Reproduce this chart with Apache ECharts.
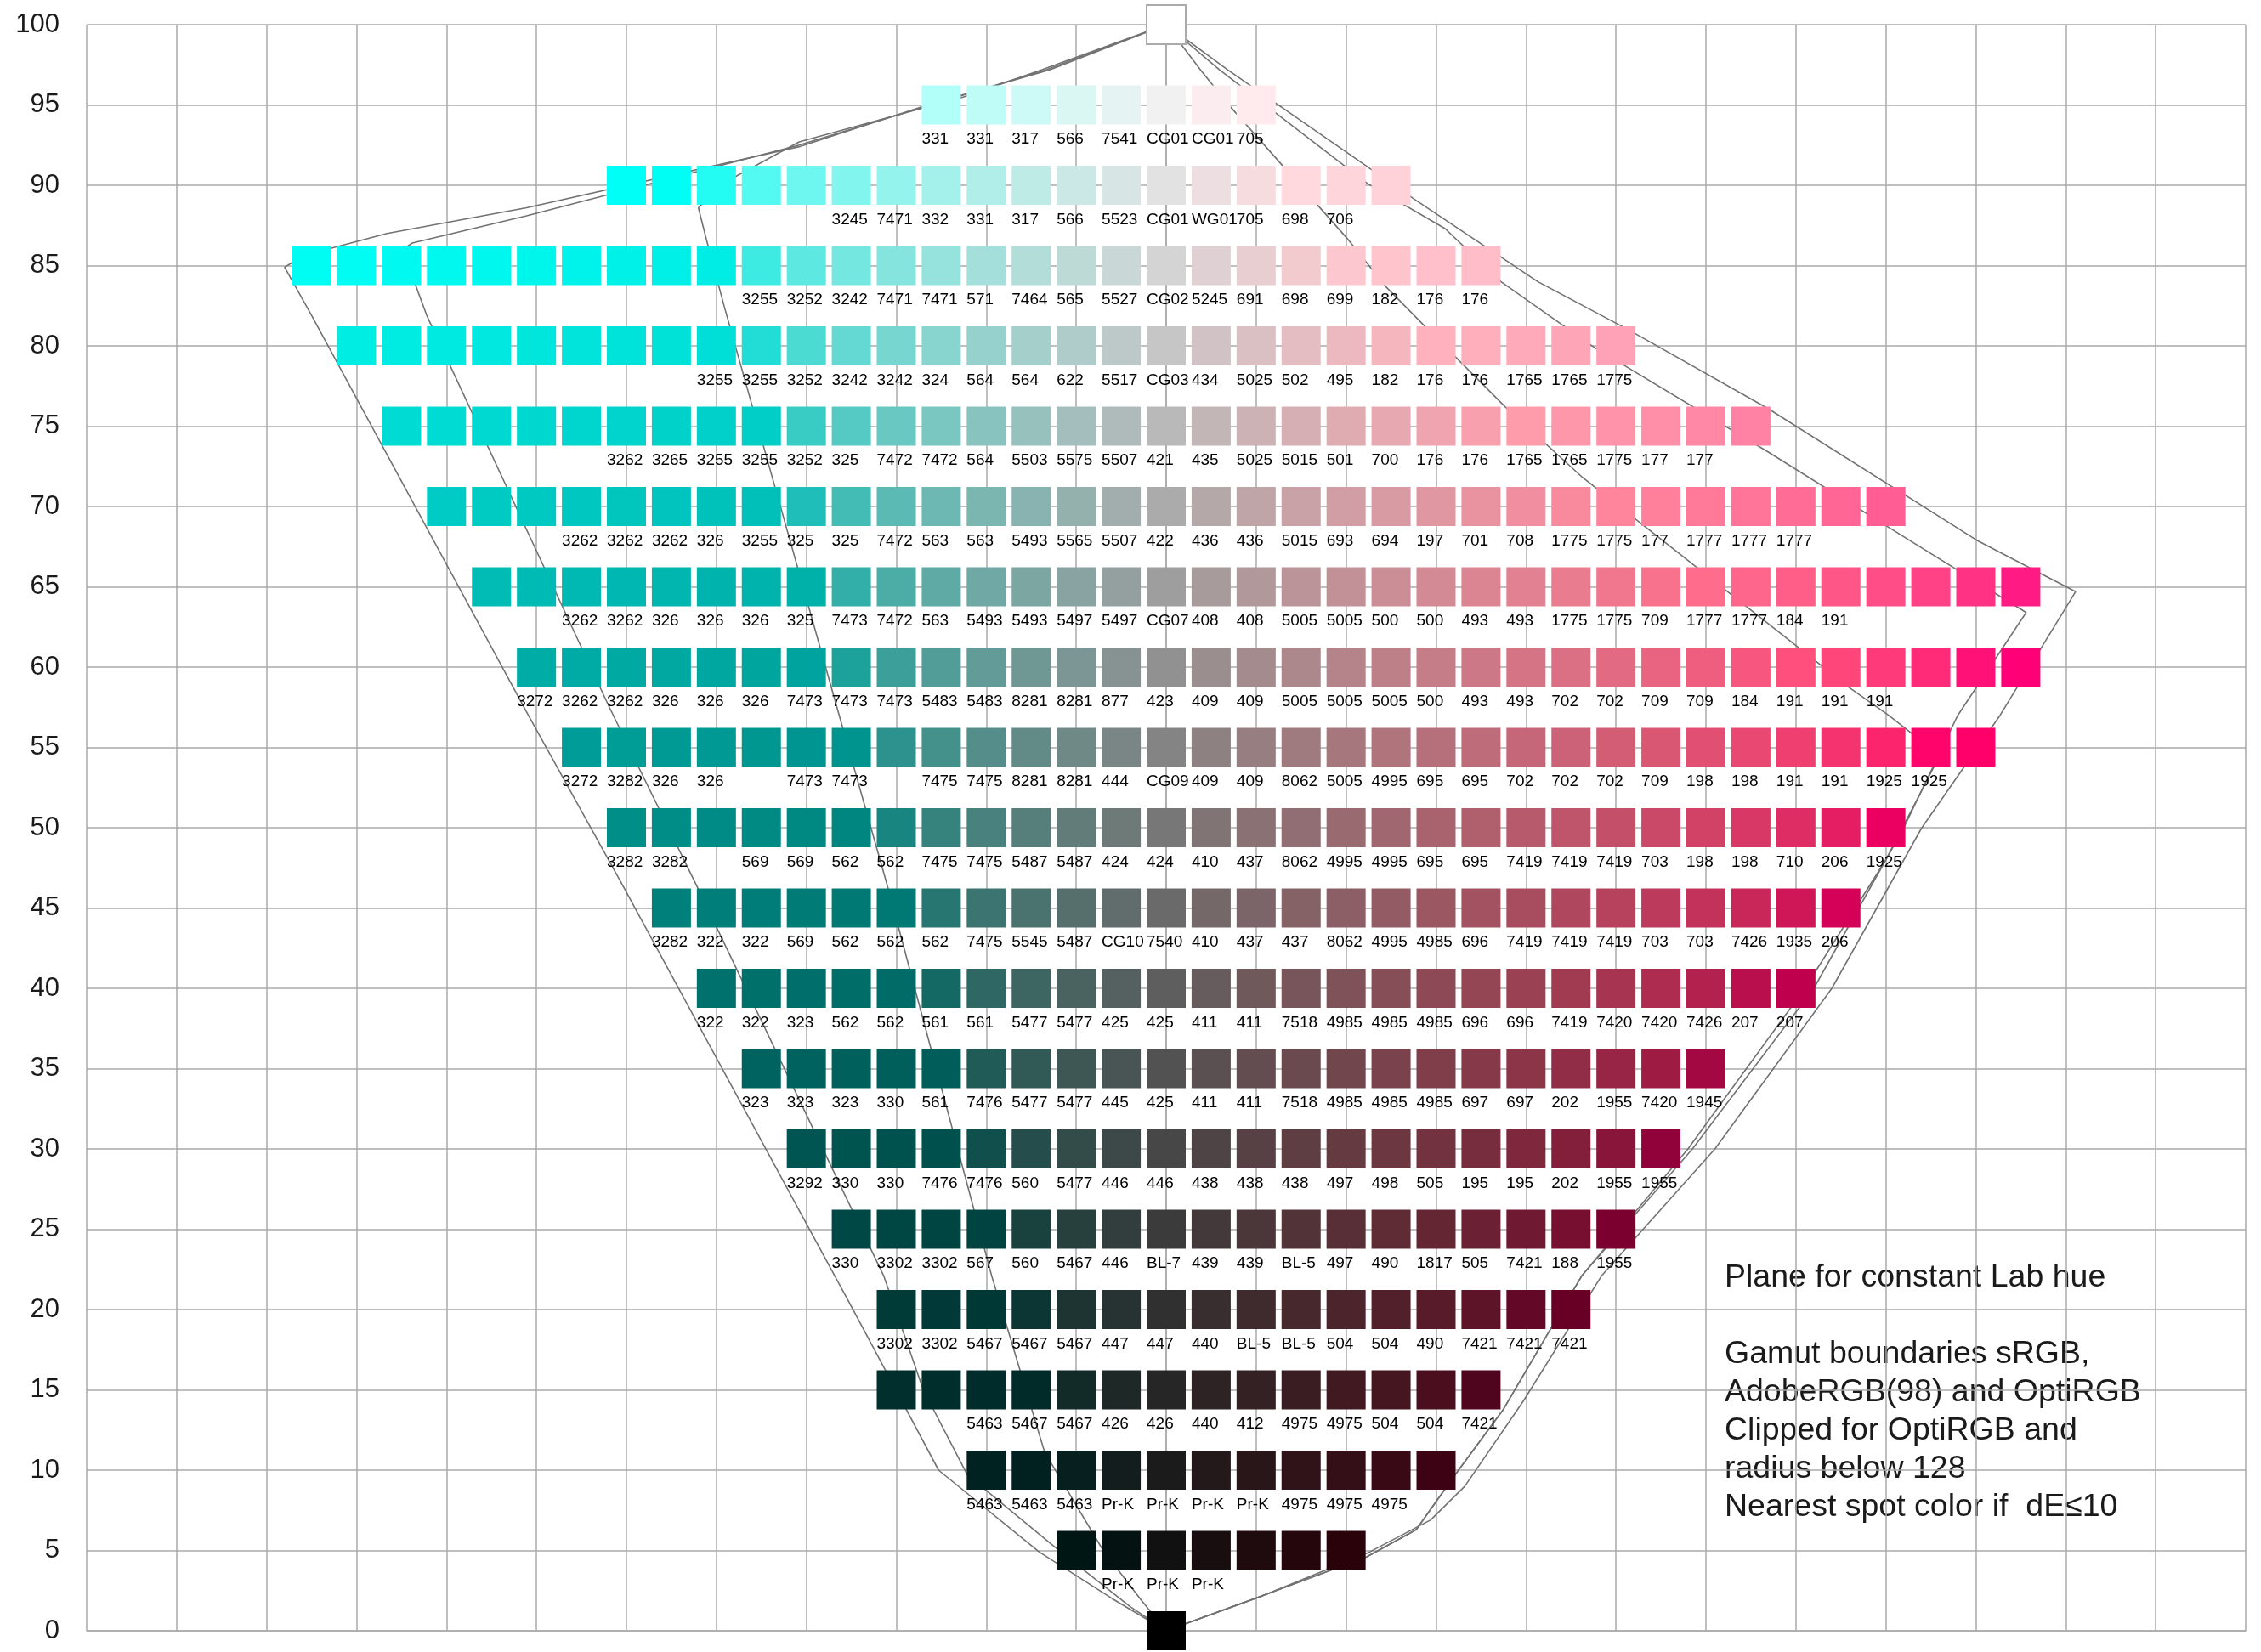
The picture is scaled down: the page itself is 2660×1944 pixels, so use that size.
<!DOCTYPE html>
<html><head><meta charset="utf-8">
<script src="https://cdn.jsdelivr.net/npm/echarts@6/dist/echarts.min.js"></script>
<style>html,body{margin:0;padding:0;background:#fff}#c{width:2660px;height:1944px}</style>
</head><body><div id="c"></div>
<script>
// Lightness levels (y) and chroma of the first patch in each row (x, signed chroma, step 5)
const rowL      = [100, 95, 90, 85, 80, 75, 70, 65, 60, 55, 50, 45, 40, 35, 30, 25, 20, 15, 10, 5, 0];
const rowStartC = [0, -25, -60, -95, -90, -85, -80, -75, -70, -65, -60, -55, -50, -45, -40, -35, -30, -30, -20, -10, 0];
const chromaStep = 5;

// Nearest spot colour names for each patch of a row ('' = none)
const lab100 = [''];
const lab95 = ['331','331','317','566','7541','CG01','CG01','705'];
const lab90 = ['','','','','','3245','7471','332','331','317','566','5523','CG01','WG01','705','698','706',''];
const lab85 = ['','','','','','','','','','','3255','3252','3242','7471','7471','571','7464','565','5527','CG02','5245','691','698','699','182','176','176'];
const lab80 = ['','','','','','','','','3255','3255','3252','3242','3242','324','564','564','622','5517','CG03','434','5025','502','495','182','176','176','1765','1765','1775'];
const lab75 = ['','','','','','3262','3265','3255','3255','3252','325','7472','7472','564','5503','5575','5507','421','435','5025','5015','501','700','176','176','1765','1765','1775','177','177',''];
const lab70 = ['','','','3262','3262','3262','326','3255','325','325','7472','563','563','5493','5565','5507','422','436','436','5015','693','694','197','701','708','1775','1775','177','1777','1777','1777','',''];
const lab65 = ['','','3262','3262','326','326','326','325','7473','7472','563','5493','5493','5497','5497','CG07','408','408','5005','5005','500','500','493','493','1775','1775','709','1777','1777','184','191','','','',''];
const lab60 = ['3272','3262','3262','326','326','326','7473','7473','7473','5483','5483','8281','8281','877','423','409','409','5005','5005','5005','500','493','493','702','702','709','709','184','191','191','191','','',''];
const lab55 = ['3272','3282','326','326','','7473','7473','','7475','7475','8281','8281','444','CG09','409','409','8062','5005','4995','695','695','702','702','702','709','198','198','191','191','1925','1925',''];
const lab50 = ['3282','3282','','569','569','562','562','7475','7475','5487','5487','424','424','410','437','8062','4995','4995','695','695','7419','7419','7419','703','198','198','710','206','1925'];
const lab45 = ['3282','322','322','569','562','562','562','7475','5545','5487','CG10','7540','410','437','437','8062','4995','4985','696','7419','7419','7419','703','703','7426','1935','206'];
const lab40 = ['322','322','323','562','562','561','561','5477','5477','425','425','411','411','7518','4985','4985','4985','696','696','7419','7420','7420','7426','207','207'];
const lab35 = ['323','323','323','330','561','7476','5477','5477','445','425','411','411','7518','4985','4985','4985','697','697','202','1955','7420','1945'];
const lab30 = ['3292','330','330','7476','7476','560','5477','446','446','438','438','438','497','498','505','195','195','202','1955','1955'];
const lab25 = ['330','3302','3302','567','560','5467','446','BL-7','439','439','BL-5','497','490','1817','505','7421','188','1955'];
const lab20 = ['3302','3302','5467','5467','5467','447','447','440','BL-5','BL-5','504','504','490','7421','7421','7421'];
const lab15 = ['','','5463','5467','5467','426','426','440','412','4975','4975','504','504','7421'];
const lab10 = ['5463','5463','5463','Pr-K','Pr-K','Pr-K','Pr-K','4975','4975','4975',''];
const lab5  = ['','Pr-K','Pr-K','Pr-K','','',''];
const lab0  = [''];
const rowLabels = [lab100, lab95, lab90, lab85, lab80, lab75, lab70, lab65, lab60, lab55, lab50, lab45, lab40, lab35, lab30, lab25, lab20, lab15, lab10, lab5, lab0];

// Gamut boundaries in the hue plane: [signed chroma, L]
const gamutSRGB = [[0,100],[-13.8,97.2],[-22.5,95.5],[-40.8,92.7],[-49,90.2],[-52,88.6],[-51.1,86.6],[-49.1,82.4],[-36.6,57.5],[-31,46.4],[-19.4,22.1],[-13.5,11.1],[-7,5],[-2.9,2],[0,0],
  [9.8,2],[22.3,4.6],[27.8,6.3],[32.1,9.7],[37.5,13.8],[46.2,22.1],[58,30],[71,40],[80,48],[86,54.5],[80.3,57],[76,58.7],[46.3,71.8],[37.7,76.2],[28.8,81.2],[24.4,83.7],[20.1,86.7],[6.8,95.1],[3.8,97.2],[0,100]];
const gamutAdobe = [[0,100],[-13.3,97.2],[-25,95.2],[-40.8,92.5],[-71.1,88.1],[-83.8,86.4],[-84.9,86.0],[-82.2,81.9],[-61.9,57.5],[-52.2,46.4],[-31.4,22.1],[-27,15],[-22.1,9.7],[-11.7,4.9],[-4,1.5],[0,0],
  [9.8,2],[22.3,4.6],[27.8,6.3],[32.1,9.7],[37.5,13.8],[46.2,22.1],[58.5,30],[72,40],[82,50],[88,57],[95.6,63.4],[82.6,67.9],[66.9,73.4],[47.6,79.9],[37.2,84],[31,87.3],[22.4,90.1],[5.9,97.2],[0,100]];
const gamutOpti = [[0,100],[-12.9,97.2],[-27.1,94.9],[-40.8,92.4],[-71.1,88.6],[-86.6,87.0],[-92.7,86.1],[-97.1,85.2],[-98,84.9],[-95,81.9],[-71.1,57.2],[-60.4,46.4],[-35.2,20.4],[-31.1,16.1],[-25.3,10],[-14.1,4.9],[-6,2],[0,0],
  [10.4,2.1],[22.6,4.9],[29.4,6.9],[33.2,9.0],[39.7,14.3],[48.4,22.1],[61,30],[74,40],[84,50],[92.7,57],[101.1,64.7],[90.1,67.9],[66.9,76.1],[51.4,81],[41.3,84],[27.4,89.2],[6.8,97.2],[0,100]];

const HUE_DEG = 11;
function labToHex(L, C) {
  const h = HUE_DEG * Math.PI / 180;
  const a = C * Math.cos(h), b = C * Math.sin(h);
  const fy = (L + 16) / 116, fx = fy + a / 500, fz = fy - b / 200;
  const inv = t => t > 6/29 ? t*t*t : 3*(6/29)*(6/29)*(t - 4/29);
  const X = 0.95047*inv(fx), Y = inv(fy), Z = 1.08883*inv(fz);
  const lin = [3.2406*X - 1.5372*Y - 0.4986*Z, -0.9689*X + 1.8758*Y + 0.0415*Z, 0.0557*X - 0.2040*Y + 1.0570*Z];
  return '#' + lin.map(v => {
    v = Math.min(1, Math.max(0, v));
    v = v <= 0.0031308 ? 12.92*v : 1.055*Math.pow(v, 1/2.4) - 0.055;
    return Math.round(v*255).toString(16).padStart(2, '0');
  }).join('');
}

const patches = [];
rowL.forEach((L, r) => {
  rowLabels[r].forEach((name, i) => {
    const C = rowStartC[r] + i * chromaStep;
    const item = { name: name, value: [C, L], itemStyle: { color: labToHex(L, C), opacity: 1 } };
    if (L === 100) { item.itemStyle.borderColor = '#aaaaaa'; item.itemStyle.borderWidth = 2; }
    patches.push(item);
  });
});

const lineStyle = { color: '#727272', width: 1.6 };
const chart = echarts.init(document.getElementById('c'), null, { renderer: 'canvas' });
chart.setOption({
  animation: false,
  backgroundColor: '#ffffff',
  grid: { left: 102, right: 18, top: 29, bottom: 25 },
  xAxis: { type: 'value', min: -120, max: 120, interval: 10,
    axisLine: { show: true, lineStyle: { color: '#aaaaaa', width: 1.5 } },
    axisTick: { show: false }, axisLabel: { show: false },
    splitLine: { show: true, lineStyle: { color: '#aaaaaa', width: 1.5 } } },
  yAxis: { type: 'value', min: 0, max: 100, interval: 5,
    axisLine: { show: true, lineStyle: { color: '#aaaaaa', width: 1.5 } },
    axisTick: { show: false },
    axisLabel: { fontSize: 31, color: '#1a1a1a', margin: 32, fontFamily: 'Liberation Sans' },
    splitLine: { show: true, lineStyle: { color: '#aaaaaa', width: 1.5 } } },
  series: [
    { type: 'line', data: gamutSRGB, symbol: 'none', lineStyle: lineStyle, z: 2, silent: true },
    { type: 'line', data: gamutAdobe, symbol: 'none', lineStyle: lineStyle, z: 2, silent: true },
    { type: 'line', data: gamutOpti, symbol: 'none', lineStyle: lineStyle, z: 2, silent: true },
    { type: 'scatter', data: patches, symbol: 'rect', symbolSize: 46, z: 5, silent: true,
      itemStyle: { opacity: 1 },
      label: { show: true, position: [0, 54], align: 'left', verticalAlign: 'top',
        formatter: p => p.name, fontSize: 19, color: '#000000', fontFamily: 'Liberation Sans' } }
  ],
  graphic: [
    { type: 'group', left: 2017, top: 1465, z: 10, children: [
      { type: 'rect', shape: { x: 0, y: 0, width: 506, height: 338 }, style: { fill: '#ffffff' } },
      { type: 'text', x: 12, y: 16, style: {
        text: 'Plane for constant Lab hue\n\nGamut boundaries sRGB,\nAdobeRGB(98) and OptiRGB\nClipped for OptiRGB and\nradius below 128\nNearest spot color if  dE\u226410',
        font: '37.5px "Liberation Sans"', lineHeight: 45, fill: '#1a1a1a' } }
    ] }
  ]
});
</script></body></html>
